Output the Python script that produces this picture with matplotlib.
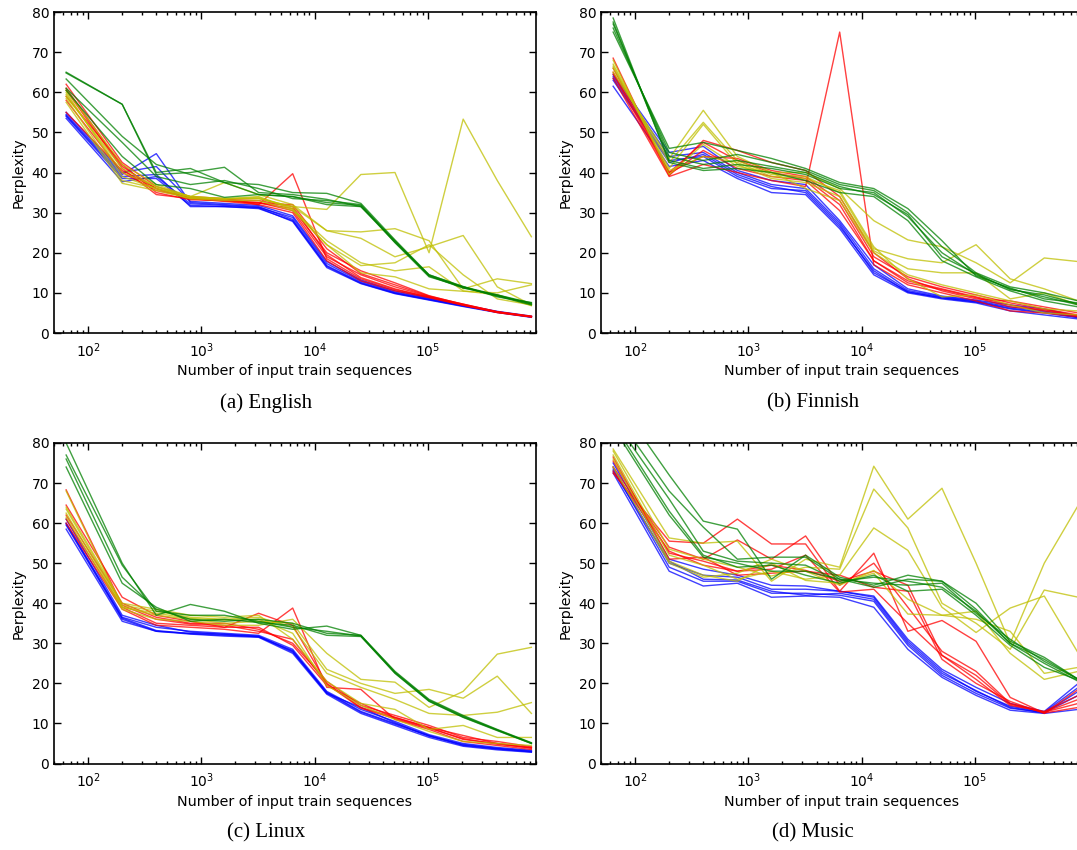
import matplotlib
matplotlib.use("Agg")
import matplotlib.pyplot as plt
from matplotlib.ticker import LogLocator, MultipleLocator, NullFormatter

plt.rcParams['font.family'] = ['DejaVu Sans']

n_seq = [64, 200, 400, 800, 1600, 3200, 6400, 12800, 25600, 51200, 102400, 204800, 409600, 819200]

english_blue = [
    [54, 38.5, 38.5, 31.8, 31.5, 31.2, 27.8, 16.3, 12.3, 9.8, 8.2, 6.6, 5.1, 3.9],
    [54.5, 39.5, 44.7, 32.5, 32, 31.5, 28.3, 16.8, 12.6, 10, 8.4, 6.8, 5.2, 4.0],
    [53.5, 37.7, 39, 32.2, 31.8, 31.3, 28.8, 17.3, 12.9, 10.2, 8.6, 6.9, 5.3, 4.1],
    [55, 40, 41.5, 32.8, 32.3, 31.8, 29.2, 17.8, 13.2, 10.5, 8.8, 7.0, 5.4, 4.2],
    [54.2, 39, 39.5, 31.5, 31.5, 31, 28, 16.6, 12.4, 9.9, 8.3, 6.7, 5.2, 4.0],
]
english_red = [
    [62, 42.5, 36.5, 34, 33.5, 32, 39.7, 18.5, 13.5, 10.8, 9.0, 7.2, 5.3, 4.1],
    [61, 41.5, 36, 33.5, 33, 32.5, 31, 20, 15.5, 12.5, 9.3, 7.1, 5.2, 4.1],
    [60.5, 41, 34.5, 33.5, 33, 32.5, 30.5, 19, 14.5, 11.5, 9.1, 7.0, 5.1, 4.0],
    [58, 40, 35.5, 33.8, 33.3, 33, 31.5, 19.5, 13.8, 11, 8.9, 7.0, 5.2, 4.1],
    [55, 40.5, 36, 33.5, 32.8, 32, 30, 18, 13, 10.5, 8.8, 6.9, 5.1, 4.0],
    [59, 42, 35, 33.2, 33, 32.3, 32, 21, 14.8, 12, 9.2, 7.2, 5.3, 4.2],
]
english_yellow = [
    [60.5, 42, 37, 34, 33.5, 33.5, 31.5, 30.8, 39.5, 40, 20, 53.3, 38, 24],
    [59.5, 40, 36.5, 34, 37.5, 34.5, 32, 25.5, 25.2, 26, 23, 11, 13.5, 12.3],
    [58.5, 38, 36, 33.5, 33.5, 33.5, 31.5, 25.5, 23.6, 19, 21.5, 24.3, 11.5, 7],
    [57.5, 37.3, 35.5, 33.5, 33, 33, 30.5, 22, 16.8, 17.5, 22, 14.5, 8.5, 7],
    [60, 39, 36, 34, 33.5, 34, 31, 22, 15, 14, 11, 10.4, 10, 12],
    [59, 41, 36.5, 33.8, 33.3, 33.8, 30.8, 23, 17.5, 15.5, 16.5, 10.5, 9.5, 6.8],
]
english_green = [
    [65, 57, 40, 41, 37.5, 37, 35, 34.8, 32.3, 23.2, 14.5, 11.5, 9.5, 7.5],
    [64.8, 57, 39.5, 40, 41.3, 35, 34.5, 33.3, 31.5, 23, 14.3, 11.3, 9.3, 7.3],
    [63.3, 49, 42, 39.5, 37.5, 34.5, 34, 32.5, 31.8, 22.5, 14, 11.5, 9.2, 7.0],
    [61, 47.5, 39, 37, 38, 36, 33.5, 33, 32, 22.8, 14.2, 11.2, 9.5, 7.2],
    [60.5, 44, 37, 36, 33.8, 34.5, 34, 32, 31.5, 22.6, 14.5, 11.6, 9.0, 7.6],
]

finnish_blue = [
    [61.5, 41.5, 43, 38.5, 35, 34.5, 26, 14.5, 10, 8.5, 7.5, 5.5, 4.5, 3.5],
    [63.5, 43, 44, 39, 36, 35.5, 27, 15, 10.3, 8.7, 7.7, 6, 5, 3.8],
    [64, 44, 45, 40, 37, 36, 27.5, 16, 10.6, 9, 8, 6.5, 5.5, 4],
    [64.5, 45, 46.5, 40.5, 38, 37, 28, 17, 11, 9.2, 8.2, 7, 6, 4.2],
    [63, 42.5, 44.5, 39.5, 36.5, 35, 26.5, 15.5, 10.2, 8.8, 7.8, 6.2, 5.2, 3.9],
]
finnish_red = [
    [63.5, 39, 42, 40, 38, 36.5, 75, 17, 12, 10, 8, 5.5, 5, 4],
    [64.5, 39.5, 45.5, 41, 39, 38, 30.5, 18, 13, 11, 9, 7, 5.5, 4.3],
    [66, 40, 44, 43.5, 40.5, 39, 33, 19, 14, 11.5, 9.5, 7.5, 6, 4.5],
    [68.5, 39.2, 48, 45.5, 42.5, 40.5, 34, 20, 13.5, 10.5, 8.5, 8, 6.5, 5],
    [65, 40, 47.5, 43, 40, 38.5, 32, 18, 12.5, 10.8, 8.8, 6.5, 5.8, 4.2],
]
finnish_yellow = [
    [65, 43.5, 55.5, 44, 40, 40, 36, 28, 23.2, 21.5, 17.5, 12.5, 18.7, 17.8],
    [66, 42.5, 52.5, 43, 39.5, 39, 35, 21, 18.5, 17.5, 22, 13.5, 11, 8],
    [67, 41, 52, 42, 38.5, 37.5, 34, 20.5, 16, 15, 15, 8.5, 10, 7],
    [68, 39.5, 47, 41.5, 40, 36, 33, 20, 14.5, 12, 10, 8, 6, 5.5],
    [66.5, 40.5, 44, 42.5, 39, 38.5, 35.5, 21.5, 13.5, 9, 9.5, 7, 5, 4.5],
]
finnish_green = [
    [78.5, 42.5, 40.5, 41, 40, 38, 35, 34, 28, 18, 14, 10.5, 8, 6.5],
    [77.5, 43, 41, 42, 41, 39.5, 36, 35, 29, 20, 14.5, 11, 9, 7],
    [76, 45, 43, 44.5, 42.5, 40.5, 37, 35.5, 30, 21.5, 15, 11.5, 10, 8],
    [75, 46, 47.5, 45.5, 43.5, 41, 37.5, 36, 31, 23, 14.2, 11.2, 8.5, 7.5],
    [77, 44, 42, 43, 41.5, 40, 36.5, 34.5, 29.5, 19, 14.8, 10.8, 9.5, 7.2],
]

linux_blue = [
    [58.5, 35.5, 33, 32.3, 31.8, 31.5, 27.5, 17.3, 12.5, 9.5, 6.5, 4.3, 3.4, 2.8],
    [59.5, 36, 33, 32.5, 32.3, 31.8, 28, 17.8, 13, 10, 7, 4.6, 3.7, 3.0],
    [60, 36.5, 34, 33, 32.5, 32, 28.5, 18, 13.5, 10.5, 7.2, 5, 4, 3.3],
    [61, 37, 34.5, 32.8, 32.2, 31.6, 28.2, 17.5, 14, 10.2, 6.8, 4.8, 3.8, 3.1],
    [59.8, 36.3, 33.2, 32.4, 32, 31.7, 27.8, 17.6, 12.8, 9.8, 6.9, 4.5, 3.6, 2.9],
]
linux_red = [
    [60, 38.5, 34.5, 34, 33.5, 32.5, 38.8, 19, 18.5, 11, 8.5, 5.5, 4.5, 3.5],
    [61, 39, 35, 34.5, 34, 37.5, 34.5, 20, 14, 11.5, 9, 6, 5, 4],
    [62, 40, 36.5, 35, 35, 33.5, 30, 20.5, 14.5, 12, 9.5, 6.5, 5.5, 4.2],
    [64.5, 41.5, 37, 35.5, 34, 34, 29.5, 19.5, 15, 11.5, 9, 7, 5, 3.8],
    [68.3, 39.5, 36, 34.8, 34.5, 33, 31, 19.8, 13.8, 11.2, 8.8, 6.2, 4.8, 3.9],
]
linux_yellow = [
    [61.5, 38.5, 36, 35.5, 34.5, 34.5, 36, 27.5, 21, 20.3, 14, 18, 27.3, 29],
    [62.5, 39, 37, 36, 35, 35.5, 35, 23.5, 20, 17.5, 18.5, 16.3, 21.8, 12.5],
    [63.5, 39.5, 38, 36.5, 36, 36.5, 34, 22.5, 19, 16, 12.5, 12, 12.8, 15.2],
    [64, 40, 38.5, 37, 36.5, 37, 31, 20.5, 15, 13.5, 8.5, 9.5, 6.5, 6.5],
    [68, 39, 37.5, 36.2, 35.8, 36, 32.5, 19.5, 14.5, 11, 8, 5.5, 5, 4.5],
]
linux_green = [
    [80, 50, 37, 39.7, 38, 35, 33.5, 34.3, 32, 23, 16, 12, 8.5, 5.2],
    [77, 49.5, 38, 37, 37, 35.5, 34, 33, 31.8, 22.5, 15.5, 11.5, 8.2, 5.0],
    [76, 46.5, 38.5, 36, 35.5, 36, 35, 32.5, 32, 22.8, 15.8, 11.8, 8.4, 5.1],
    [74, 45, 39, 35.5, 36, 35.2, 34.5, 32, 31.7, 22.6, 15.6, 11.6, 8.3, 5.0],
]

music_blue = [
    [72.5, 48, 44.3, 45, 41.5, 41.8, 41.5, 39, 28.5, 21.5, 17, 13.3, 12.5, 13.5],
    [73.5, 49, 45.5, 45.5, 42.5, 42.5, 42, 40.5, 29.5, 22, 17.5, 13.8, 12.7, 17],
    [74, 50, 47, 46.5, 43.5, 43.5, 43, 41.5, 30.5, 23, 18, 14.3, 12.8, 19],
    [75, 51, 48.5, 47, 44.5, 44.3, 43, 41.8, 31, 23.5, 19, 15, 13, 20],
    [73, 50.5, 46, 45.8, 43, 42, 42.5, 41, 30, 22.5, 18.2, 14, 12.6, 18],
]
music_red = [
    [72.5, 55.5, 55, 61, 54.8, 54.8, 43, 52.5, 33, 35.7, 30.5, 16.5, 12.6, 14],
    [74, 54, 51, 55.8, 51, 56.8, 44.5, 50, 39, 28, 23, 15, 12.8, 15],
    [75.5, 52.5, 50.5, 48, 49.5, 48.2, 45.5, 48, 44.5, 27, 21, 14.5, 13, 17],
    [76.5, 51, 51.5, 47, 47.5, 48, 47, 44, 43, 26, 20, 15.5, 12.5, 18.5],
    [73, 53, 49.5, 48, 48.5, 52, 42.8, 43.5, 35, 27, 22, 14.8, 12.8, 16],
]
music_yellow = [
    [78.5, 56.3, 55, 55.5, 45.5, 51, 49, 74.2, 61, 68.7, 50, 30, 50, 64.5],
    [78, 53.5, 51, 49, 46.8, 49, 48.5, 68.5, 58.8, 40, 35, 28.5, 43.3, 41.5],
    [77, 52, 49.5, 46, 48, 46, 47, 58.8, 53.2, 39, 32.7, 38.8, 41.8, 27.5],
    [76, 50.5, 47, 45.5, 50, 45.7, 45, 47.5, 37.3, 37, 38, 27.5, 21, 23],
    [74, 50, 46.5, 47.5, 51, 48, 44.5, 48.2, 41, 37, 36, 33, 22.5, 24],
]
music_green = [
    [92, 72, 60.5, 58.5, 46, 52, 46.5, 44.5, 47, 45.5, 40, 30.5, 26.5, 21],
    [88, 68, 59, 51, 51.5, 51.5, 46, 44, 46, 45.5, 38.5, 30, 26, 21],
    [86, 66, 53, 50.5, 50, 49.5, 45.5, 46.5, 45.5, 44, 38, 30, 25, 20.5],
    [85, 63, 52, 49, 49.5, 47, 45, 47, 43, 43.5, 37, 29.5, 24, 20.8],
    [84, 62, 51.5, 50, 48, 48, 46, 45, 44.5, 45, 37.5, 31, 25.5, 21],
]

captions = ["(a) English", "(b) Finnish", "(c) Linux", "(d) Music"]
xlabel = "Number of input train sequences"
ylabel = "Perplexity"

panels = [
    (english_blue, english_red, english_yellow, english_green),
    (finnish_blue, finnish_red, finnish_yellow, finnish_green),
    (linux_blue, linux_red, linux_yellow, linux_green),
    (music_blue, music_red, music_yellow, music_green),
]
colors = ["#0000ff", "#ff0000", "#bfbf00", "#008000"]

W, H = 1077, 850
fig = plt.figure(figsize=(W / 100, H / 100), dpi=100)
fig.patch.set_facecolor("white")

# axes rectangles in pixels: left, top, right, bottom
rects = [(54, 12, 536, 333), (601, 12, 1083, 333),
         (54, 443, 536, 763.5), (601, 443, 1083, 763.5)]
cap_pos = [(266.5, 403), (813, 403), (266.5, 833), (813, 833)]

for i, (groups, (l, t, r, b)) in enumerate(zip(panels, rects)):
    ax = fig.add_axes([l / W, 1 - b / H, (r - l) / W, (b - t) / H])
    for series, c in zip(groups, colors):
        for vals in series:
            ax.plot(n_seq, vals, color=c, lw=1.0, alpha=0.75)
    ax.set_xscale("log")
    ax.set_xlim(50, 9e5)
    ax.set_ylim(0, 80)
    ax.yaxis.set_major_locator(MultipleLocator(10))
    ax.xaxis.set_major_locator(LogLocator(base=10))
    ax.xaxis.set_minor_locator(LogLocator(base=10, subs=range(2, 10)))
    ax.xaxis.set_minor_formatter(NullFormatter())
    right_side = (i % 2 == 0)
    ax.tick_params(which="both", direction="in", top=True, right=right_side,
                   labelsize=10, colors="black")
    ax.tick_params(which="major", length=5, width=1)
    ax.tick_params(which="minor", length=2.5, width=1)
    ax.tick_params(axis="x", which="major", pad=6)
    for sp in ax.spines.values():
        sp.set_linewidth(1.2)
    ax.set_xlabel(xlabel, fontsize=10.3, labelpad=3)
    ax.set_ylabel(ylabel, fontsize=10.3, labelpad=4)
    cx, cy = cap_pos[i]
    fig.text(cx / W, 1 - cy / H, captions[i], ha="center", va="center",
             fontsize=15, family=["Liberation Serif", "DejaVu Serif"])

fig.savefig("out.png", dpi=100, facecolor="white")
